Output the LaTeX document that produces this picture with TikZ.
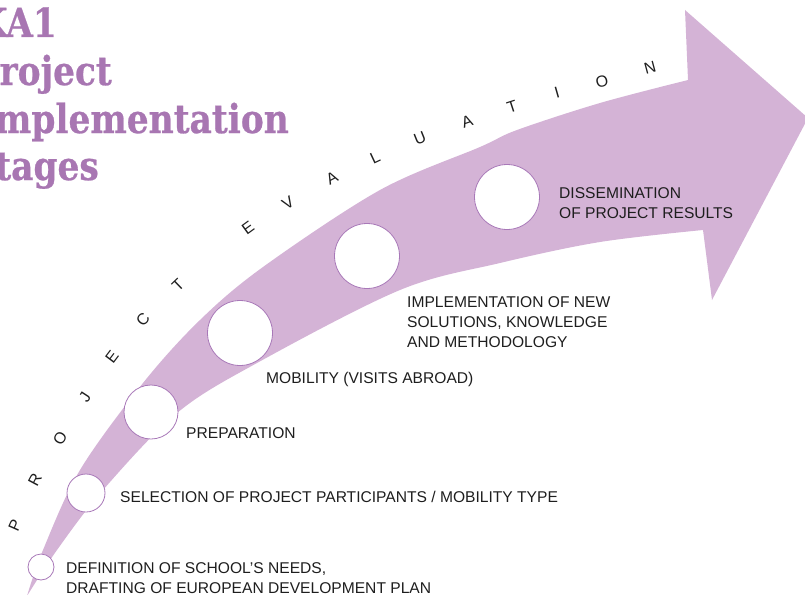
\documentclass[tikz,border=0pt]{standalone}
\usepackage{fontspec}
\setmainfont{Liberation Sans}
\newfontfamily\titlefont{DejaVu Serif}[FakeStretch=0.86, BoldFeatures={FakeBold=0.6}]
\definecolor{bandc}{RGB}{212,179,214}
\definecolor{ttl}{RGB}{168,118,178}
\definecolor{ring}{RGB}{168,120,184}
\definecolor{ink}{RGB}{30,30,30}
\tikzset{
  stage/.style={circle, draw=ring, line width=0.8pt, fill=white, inner sep=0pt},
  lbl/.style={text=ink, font=\fontsize{15.6}{20}\selectfont, align=left, inner sep=0pt},
  ttlstyle/.style={text=ttl, font=\titlefont\bfseries\fontsize{40}{48}\selectfont, inner sep=0pt, anchor=base east},
  evl/.style={text=ink, font=\fontsize{16}{18}\selectfont, inner sep=0pt}
}
\begin{document}
\begin{tikzpicture}[x=1pt,y=-1pt]
\useasboundingbox (0,0) rectangle (805,594);
% band arrow
\fill[bandc] plot[smooth, tension=0.55] coordinates {(27,596) (43,550) (80,470) (143,383) (200,320) (263,267) (380,190) (480,147) (517,130) (600,103) (688,80)}
  -- (685,10) -- (808,118) -- (712,300) -- (703,230)
  -- plot[smooth, tension=0.55] coordinates {(703,230) (600,242) (500,263) (400,290) (257,363) (177,413) (103,490) (57,550) (27,596)} -- cycle;
% stage circles
\node[stage, minimum size=26pt] (c1) at (41,567) {};
\node[stage, minimum size=38pt] (c2) at (86,493) {};
\node[stage, minimum size=54pt] (c3) at (151,412) {};
\node[stage, minimum size=65pt] (c4) at (240,333) {};
\node[stage, minimum size=65pt] (c5) at (367,256) {};
\node[stage, minimum size=65pt] (c6) at (507,197) {};
% labels (base anchor = baseline of last line)
\node[lbl, anchor=base west] (l1) at (66,593) {DEFINITION OF SCHOOL’S NEEDS,\\DRAFTING OF EUROPEAN DEVELOPMENT PLAN};
\node[lbl, anchor=base west] (l2) at (120,502) {SELECTION OF PROJECT PARTICIPANTS / MOBILITY TYPE};
\node[lbl, anchor=base west] (l3) at (186,438) {PREPARATION};
\node[lbl, anchor=base west] (l4) at (266,383) {MOBILITY (VISITS ABROAD)};
\node[lbl, anchor=base west] (l5) at (407,347) {IMPLEMENTATION OF NEW\\SOLUTIONS, KNOWLEDGE\\AND METHODOLOGY};
\node[lbl, anchor=base west] (l6) at (559,218) {DISSEMINATION\\OF PROJECT RESULTS};
% project evaluation
\foreach \ch/\px/\py/\ang [count=\i] in {P/15/525/66, R/35/480/62, O/60/438/59, J/85/397/57, E/112/357/53, C/143/320/48, T/178/285/44, E/248/228/36, V/288/203/32, A/332/178/28, L/375/158/25, U/420/138/22, A/467/122/19, T/512/107/18, I/557/93/16, O/602/82/15, N/650/68/15}
  \node[evl, rotate=\ang] (pe\i) at (\px,\py) {\ch};
% title
\node[ttlstyle] (t1) at (57,37) {KA1};
\node[ttlstyle] (t2) at (112,85) {Project};
\node[ttlstyle] (t3) at (289,133) {Implementation};
\node[ttlstyle] (t4) at (99,180) {Stages};
\end{tikzpicture}
\end{document}
